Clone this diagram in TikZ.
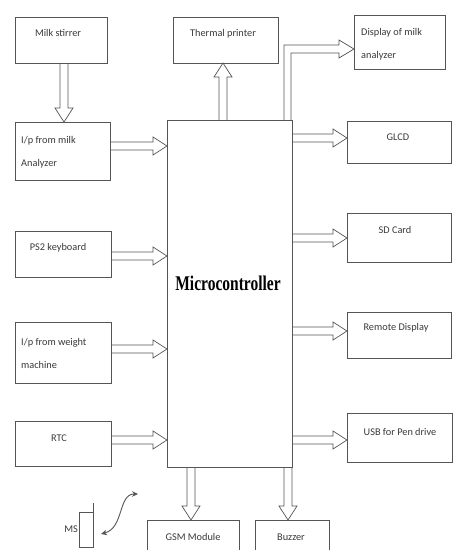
\documentclass[tikz,border=0pt]{standalone}
\usepackage{fontspec}
\newfontfamily\boxfont{Carlito}
\newfontfamily\mcfont{Liberation Serif}
\usetikzlibrary{calc,arrows.meta,fit}
\definecolor{linecol}{HTML}{555555}
\definecolor{textcol}{HTML}{3A3A3A}
\begin{document}
\begin{tikzpicture}[x=1pt,y=-1pt,
  box/.style={draw=linecol, line width=0.8pt, inner sep=0pt, outer sep=0pt},
  txt/.style={font=\boxfont\fontsize{10.3}{12}\selectfont, text=textcol, inner sep=0pt},
  twoline/.style={font=\boxfont\fontsize{10.3}{23}\selectfont, text=textcol, inner sep=0pt, align=left, anchor=west},
  blk/.style={draw=linecol, line width=0.7pt, to path={
    let \p1=(\tikztostart), \p2=(\tikztotarget), \n1={atan2(\y2-\y1,\x2-\x1)} in
    ($(\p1)+(\n1+90:4pt)$) -- ($(\p2)+(\n1+180:14pt)+(\n1+90:4pt)$)
    -- ($(\p2)+(\n1+180:14pt)+(\n1+90:9pt)$) -- (\p2)
    -- ($(\p2)+(\n1+180:14pt)+(\n1-90:9pt)$) -- ($(\p2)+(\n1+180:14pt)+(\n1-90:4pt)$)
    -- ($(\p1)+(\n1-90:4pt)$)}},
  thin/.style={draw=linecol, line width=0.7pt}]
\path[use as bounding box, clip] (0,0) rectangle (459,550);
\fill[white] (0,0) rectangle (459,550);

% boxes
\node[box, fit={(15,17) (107,63)}] (stir) {};
\node[box, fit={(15,122) (110,180)}] (ipmilk) {};
\node[box, fit={(15,231) (111,277)}] (ps2) {};
\node[box, fit={(15,322) (111,383)}] (weight) {};
\node[box, fit={(15,421) (111,466)}] (rtc) {};
\node[box, fit={(173,17) (278,63)}] (therm) {};
\node[box, fit={(354,15) (445,69)}] (disp) {};
\node[box, fit={(347,121) (451,163)}] (glcd) {};
\node[box, fit={(347,213) (451,262)}] (sd) {};
\node[box, fit={(347,312) (451,358)}] (remote) {};
\node[box, fit={(347,413) (452,462)}] (usb) {};
\node[box, fit={(167,120) (292,467)}] (mc) {};
\node[box, fit={(147,520) (239,575)}] (gsm) {};
\node[box, fit={(255,520) (329,575)}] (buzz) {};
\node[box, fit={(79,512) (93,547)}] (ms) {};

% texts
\node[txt] at (58,33) {Milk stirrer};
\node[twoline] at (21,152.5) {I/p from milk\\Analyzer};
\node[txt] at (58,248) {PS2 keyboard};
\node[twoline] at (21,353.5) {I/p from weight\\machine};
\node[txt] at (59,438) {RTC};
\node[txt] at (223,34) {Thermal printer};
\node[twoline] at (361,44) {Display of milk\\analyzer};
\node[txt] at (398,137) {GLCD};
\node[txt] at (395,230) {SD Card};
\node[txt] at (396,328) {Remote Display};
\node[txt] at (400,432) {USB for Pen drive};
\node[txt] at (193,537) {GSM Module};
\node[txt] at (291,537) {Buzzer};
\node[txt, anchor=east, xshift=-1pt] at (ms.west) {MS};
\node[inner sep=0pt, font=\mcfont\bfseries\fontsize{15.5}{18}\selectfont, yscale=1.35] at (228,283) {Microcontroller};

% block arrows
\draw[blk] (64,0 |- stir.south) to (64,0 |- ipmilk.north);
\draw[blk] (ipmilk.east |- 0,146) to (mc.west |- 0,146);
\draw[blk] (ps2.east |- 0,256) to (mc.west |- 0,256);
\draw[blk] (weight.east |- 0,349) to (mc.west |- 0,349);
\draw[blk] (rtc.east |- 0,440) to (mc.west |- 0,440);
\draw[blk] (223,0 |- mc.north) to (223,0 |- therm.south);
\draw[blk] (mc.east |- 0,138) to (glcd.west |- 0,138);
\draw[blk] (mc.east |- 0,238) to (sd.west |- 0,238);
\draw[blk] (mc.east |- 0,331) to (remote.west |- 0,331);
\draw[blk] (mc.east |- 0,440) to (usb.west |- 0,440);
\draw[blk] (191,0 |- mc.south) to (191,0 |- gsm.north);
\draw[blk] (288,0 |- mc.south) to (288,0 |- buzz.north);
% L-shaped arrow to display
\draw[thin] (284,0 |- mc.north) -- (284,45) -- (339,45) -- (339,40)
  -- (disp.west |- 0,49) -- (339,58) -- (339,53) -- (291,53) -- (291,0 |- mc.north);

% MS details
\draw[thin] (ms.north east) -- ++(0,-9);
\coordinate (c1) at (138,494);
\coordinate (c2) at (101,534);
\draw[draw=linecol, line width=0.9pt, {Stealth[length=6pt,width=5.5pt]}-{Stealth[length=6pt,width=5.5pt]}]
  (c1) .. controls (118,494) and (124,528) .. (c2);
\end{tikzpicture}
\end{document}
